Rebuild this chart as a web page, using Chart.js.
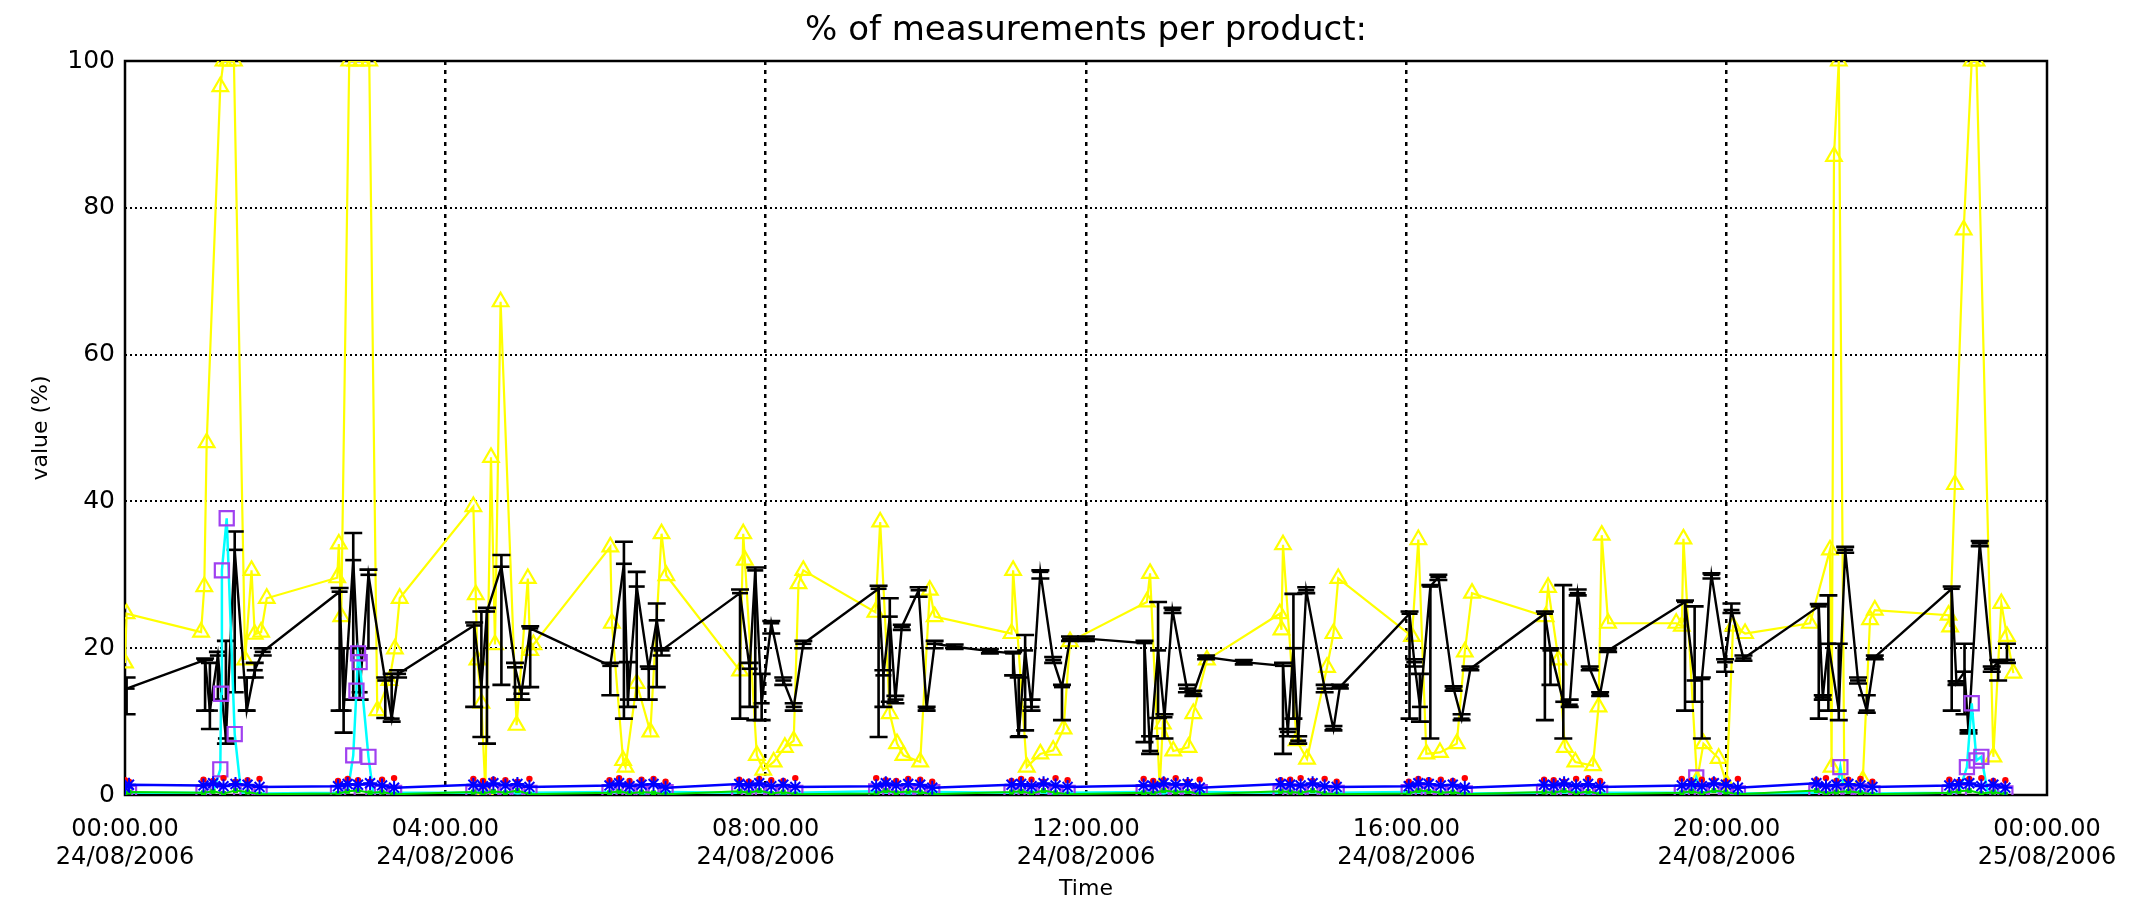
<!DOCTYPE html>
<html>
<head>
<meta charset="utf-8">
<script src="https://cdn.jsdelivr.net/npm/chart.js@4.4.0/dist/chart.umd.min.js"></script>
<style>
  html, body { margin: 0; padding: 0; background: #fff; }
</style>
</head>
<body>
<canvas id="grafico" width="2139" height="904"></canvas>
<script>
// Eje X: horas desde 24/08/2006 00:00
const horasTicks = [0, 4, 8, 12, 16, 20, 24];
const etiquetasHora = ['00:00.00', '04:00.00', '08:00.00', '12:00.00', '16:00.00', '20:00.00', '00:00.00'];
const etiquetasFecha = ['24/08/2006', '24/08/2006', '24/08/2006', '24/08/2006', '24/08/2006', '24/08/2006', '25/08/2006'];
const ticksY = [0, 20, 40, 60, 80, 100];

// Serie negra: media con barras de error (min / max)
const negroHoras = [0.02,
  1.00, 1.06, 1.16, 1.26, 1.37, 1.52, 1.62, 1.72,
  2.68, 2.73, 2.85, 2.93, 3.04, 3.25, 3.33, 3.41,
  4.36, 4.45, 4.52, 4.70, 4.87, 4.95, 5.06,
  6.06, 6.23, 6.28, 6.39, 6.54, 6.64, 6.70,
  7.68, 7.80, 7.87, 7.95, 8.07, 8.22, 8.35, 8.47,
  9.41, 9.47, 9.55, 9.62, 9.70, 9.91, 10.01, 10.11, 10.36, 10.80,
  11.09, 11.16, 11.24, 11.32, 11.43, 11.59, 11.70, 11.80, 12.00,
  12.73, 12.80, 12.90, 12.98, 13.08, 13.26, 13.34, 13.50, 13.97,
  14.46, 14.52, 14.59, 14.65, 14.75, 14.98, 15.09, 15.17,
  16.04, 16.10, 16.17, 16.30, 16.40, 16.59, 16.69, 16.80,
  17.73, 17.80, 17.96, 18.04, 18.14, 18.29, 18.42, 18.52,
  19.48, 19.60, 19.69, 19.81, 19.98, 20.06, 20.21,
  21.15, 21.20, 21.27, 21.40, 21.48, 21.64, 21.75, 21.85,
  22.81, 22.87, 22.97, 23.02, 23.16, 23.31, 23.39, 23.50];
const negroMedia = [14.5,
  18.4, 11.5, 19.0, 7.7, 33.4, 11.5, 17.0, 19.5,
  27.7, 11.5, 32.0, 14.0, 30.0, 15.6, 10.4, 16.5,
  23.1, 14.7, 25.0, 31.1, 17.4, 13.8, 22.7,
  17.6, 31.5, 13.0, 28.4, 17.2, 23.8, 19.7,
  27.5, 17.2, 30.6, 12.5, 23.4, 15.6, 12.0, 20.6,
  28.1, 16.3, 24.3, 13.0, 22.9, 27.9, 11.8, 20.6, 20.2, 19.6,
  19.3, 8.0, 19.7, 12.0, 30.4, 18.4, 14.7, 21.3, 21.3,
  20.7, 6.0, 19.7, 10.6, 25.2, 14.5, 13.8, 18.8, 18.1,
  17.6, 8.6, 20.0, 7.4, 27.9, 14.5, 9.0, 14.7,
  24.7, 18.1, 12.0, 28.4, 29.7, 14.5, 10.4, 17.2,
  24.7, 19.7, 12.7, 12.3, 27.5, 17.2, 13.8, 19.7,
  26.3, 15.6, 15.8, 30.0, 18.1, 25.2, 18.6,
  25.7, 13.3, 20.6, 11.5, 33.4, 15.6, 11.5, 18.8,
  28.1, 15.2, 16.8, 8.6, 34.3, 17.2, 18.1, 18.4];
const negroMin = [11.0,
  11.5, 9.0, 13.0, 7.0, 14.0, 11.5, 16.0, 19.0,
  11.5, 8.5, 13.0, 13.0, 20.0, 10.5, 10.0, 16.0,
  12.0, 7.9, 7.0, 15.0, 13.0, 13.0, 14.7,
  13.6, 10.4, 12.0, 13.0, 13.0, 14.7, 19.0,
  10.4, 12.0, 10.2, 10.2, 22.0, 15.0, 11.5, 20.0,
  7.9, 12.0, 12.7, 12.5, 22.5, 27.0, 11.5, 20.0, 19.9, 19.3,
  16.3, 7.9, 8.8, 11.5, 29.5, 18.0, 10.2, 21.0, 21.0,
  7.2, 5.6, 10.5, 7.7, 24.8, 14.0, 13.5, 18.5, 17.8,
  5.6, 8.0, 10.4, 7.0, 27.5, 14.0, 8.8, 14.5,
  10.4, 17.5, 10.0, 7.7, 29.3, 14.2, 10.2, 17.0,
  10.2, 15.0, 7.7, 12.0, 27.2, 17.0, 13.5, 19.5,
  11.5, 12.7, 7.7, 29.5, 16.8, 24.8, 18.3,
  10.4, 13.0, 11.5, 10.2, 33.0, 15.2, 11.2, 18.5,
  11.5, 15.0, 11.0, 8.4, 33.9, 16.8, 15.6, 18.0];
const negroMax = [16.0,
  18.6, 18.0, 19.5, 21.0, 35.9, 16.0, 18.0, 20.0,
  28.2, 20.0, 35.7, 20.0, 30.7, 16.0, 16.5, 17.0,
  23.5, 25.0, 25.5, 32.7, 18.0, 14.7, 23.0,
  18.0, 34.5, 18.1, 30.4, 17.5, 26.1, 20.0,
  28.0, 18.0, 31.0, 16.5, 23.7, 16.0, 12.5, 21.0,
  28.5, 17.0, 26.8, 13.5, 23.2, 28.3, 12.0, 21.0, 20.5, 19.9,
  19.5, 16.0, 21.8, 13.0, 30.6, 18.8, 15.0, 21.6, 21.6,
  21.0, 8.0, 26.3, 11.0, 25.5, 15.0, 14.2, 19.0, 18.4,
  18.0, 9.0, 27.4, 8.0, 28.3, 15.0, 9.4, 15.0,
  25.0, 18.5, 16.5, 28.6, 30.0, 14.8, 11.0, 17.5,
  25.0, 20.0, 28.6, 13.0, 28.0, 17.5, 14.0, 20.0,
  26.5, 25.7, 16.0, 30.2, 18.5, 26.1, 19.0,
  26.0, 13.6, 27.2, 20.6, 33.8, 16.0, 13.6, 19.0,
  28.4, 15.5, 20.6, 8.8, 34.6, 17.5, 18.4, 20.6];

// Serie amarilla (triángulos)
const amarilloHoras = [0.00, 0.02,
  0.95, 0.99, 1.02, 1.19, 1.23, 1.28, 1.36, 1.50, 1.58, 1.62, 1.70, 1.77,
  2.65, 2.67, 2.70, 2.80, 2.88, 2.95, 3.05, 3.15, 3.30, 3.37, 3.43,
  4.35, 4.38, 4.40, 4.45, 4.50, 4.57, 4.62, 4.69, 4.89, 5.03, 5.06, 5.10,
  6.06, 6.08, 6.22, 6.25, 6.39, 6.56, 6.70, 6.76,
  7.68, 7.72, 7.74, 7.89, 7.97, 8.10, 8.24, 8.35, 8.41, 8.47,
  9.37, 9.43, 9.55, 9.64, 9.72, 9.93, 10.05, 10.11,
  11.07, 11.09, 11.26, 11.43, 11.59, 11.72, 11.80,
  12.76, 12.80, 12.92, 12.96, 13.09, 13.28, 13.34, 13.51,
  14.42, 14.44, 14.46, 14.63, 14.76, 15.01, 15.09, 15.15,
  16.07, 16.15, 16.25, 16.42, 16.63, 16.73, 16.82,
  17.74, 17.77, 17.90, 17.98, 18.11, 18.33, 18.40, 18.44, 18.52,
  19.37, 19.44, 19.46, 19.63, 19.71, 19.90, 20.00, 20.08, 20.23,
  21.04, 21.29, 21.31, 21.34, 21.40, 21.47, 21.70, 21.79, 21.85,
  22.77, 22.79, 22.85, 22.96, 23.06, 23.12, 23.33, 23.43, 23.50, 23.58];
const amarilloValores = [18.0, 24.7,
  22.2, 28.4, 48.0, 96.5, 100, 100, 100, 18.4, 30.6, 21.9, 22.2, 26.8,
  29.6, 34.2, 24.3, 100, 100, 100, 100, 11.5, 15.6, 19.9, 26.8,
  39.3, 27.3, 18.4, 12.5, 0.5, 46.0, 20.5, 67.2, 9.5, 29.5, 19.7, 20.5,
  33.8, 23.4, 4.7, 3.8, 15.2, 8.6, 35.6, 29.9,
  16.9, 35.6, 32.0, 5.4, 3.4, 4.5, 6.5, 7.4, 28.8, 30.6,
  24.9, 37.2, 11.1, 7.0, 5.4, 4.5, 27.9, 24.3,
  22.0, 30.6, 3.8, 5.6, 6.1, 9.0, 20.9,
  26.3, 30.2, 1.0, 9.7, 6.0, 6.5, 11.1, 18.4,
  24.7, 22.5, 34.1, 7.4, 4.9, 17.4, 22.0, 29.5,
  21.6, 34.8, 5.6, 5.8, 7.0, 19.5, 27.5,
  24.3, 28.3, 18.4, 6.5, 4.5, 4.0, 12.0, 35.4, 23.4,
  23.4, 23.0, 34.9, 2.0, 7.0, 5.0, 1.5, 23.0, 22.0,
  23.4, 33.4, 3.8, 87.0, 100, 1.0, 2.0, 23.9, 25.2,
  24.5, 22.9, 42.3, 77.0, 100, 100, 5.2, 26.1, 21.6, 16.6];

// Serie cian con cuadrados morados
const cianHoras = [0.00, 0.05,
  0.98, 1.10, 1.19, 1.20, 1.21, 1.27, 1.37, 1.45, 1.53, 1.68,
  2.66, 2.78, 2.85, 2.89, 2.91, 2.93, 3.04, 3.10, 3.21, 3.36,
  4.35, 4.47, 4.60, 4.75, 4.90, 5.05,
  6.05, 6.17, 6.30, 6.45, 6.60, 6.75,
  7.67, 7.79, 7.92, 8.07, 8.22, 8.37,
  9.38, 9.50, 9.63, 9.78, 9.93, 10.08,
  11.07, 11.19, 11.32, 11.47, 11.62, 11.77,
  12.72, 12.84, 12.97, 13.12, 13.27, 13.42,
  14.43, 14.55, 14.68, 14.83, 14.98, 15.13,
  16.03, 16.15, 16.28, 16.43, 16.58, 16.73,
  17.72, 17.84, 17.97, 18.12, 18.27, 18.42,
  19.44, 19.56, 19.62, 19.69, 19.84, 19.99, 20.14,
  21.12, 21.24, 21.37, 21.42, 21.47, 21.52, 21.67, 21.82,
  22.78, 22.90, 23.00, 23.06, 23.12, 23.18, 23.26, 23.38, 23.48];
const cianValores = [0.3, 0.3,
  0.3, 0.4, 3.5, 13.8, 30.6, 37.7, 8.3, 0.3, 0.4, 0.2,
  0.3, 0.4, 5.4, 14.2, 19.3, 18.1, 5.2, 0.3, 0.4, 0.3,
  0.3, 0.5, 0.3, 0.4, 0.2, 0.3,
  0.4, 0.3, 0.5, 0.2, 0.3, 0.4,
  0.3, 0.5, 0.4, 0.3, 0.2, 0.3,
  0.5, 0.3, 0.4, 0.2, 0.3, 0.4,
  0.3, 0.4, 0.5, 0.3, 0.2, 0.3,
  0.4, 0.3, 0.2, 0.5, 0.3, 0.4,
  0.3, 0.5, 0.3, 0.4, 0.2, 0.3,
  0.4, 0.3, 0.5, 0.3, 0.4, 0.2,
  0.3, 0.4, 0.3, 0.5, 0.2, 0.3,
  0.3, 0.4, 2.4, 0.3, 0.5, 0.3, 0.2,
  0.3, 0.4, 0.3, 3.8, 0.4, 0.3, 0.5, 0.2,
  0.3, 0.4, 3.8, 12.5, 4.7, 5.2, 0.3, 0.5, 0.2];

// Series casi nulas: azul (asteriscos), rojo (puntos), verde
const bajasHoras = [0.00, 0.05,
  0.98, 1.10, 1.23, 1.38, 1.53, 1.68,
  2.66, 2.78, 2.91, 3.06, 3.21, 3.36,
  4.35, 4.47, 4.60, 4.75, 4.90, 5.05,
  6.05, 6.17, 6.30, 6.45, 6.60, 6.75,
  7.67, 7.79, 7.92, 8.07, 8.22, 8.37,
  9.38, 9.50, 9.63, 9.78, 9.93, 10.08,
  11.07, 11.19, 11.32, 11.47, 11.62, 11.77,
  12.72, 12.84, 12.97, 13.12, 13.27, 13.42,
  14.43, 14.55, 14.68, 14.83, 14.98, 15.13,
  16.03, 16.15, 16.28, 16.43, 16.58, 16.73,
  17.72, 17.84, 17.97, 18.12, 18.27, 18.42,
  19.44, 19.56, 19.69, 19.84, 19.99, 20.14,
  21.12, 21.24, 21.37, 21.52, 21.67, 21.82,
  22.78, 22.90, 23.03, 23.18, 23.33, 23.48];
const azulValores = [1.0, 1.4,
  1.3, 1.6, 1.2, 1.5, 1.4, 1.1,
  1.2, 1.5, 1.4, 1.6, 1.3, 1.0,
  1.4, 1.2, 1.6, 1.3, 1.5, 1.1,
  1.3, 1.6, 1.2, 1.4, 1.5, 1.0,
  1.5, 1.3, 1.6, 1.2, 1.4, 1.1,
  1.2, 1.6, 1.3, 1.5, 1.4, 1.0,
  1.4, 1.5, 1.2, 1.6, 1.3, 1.1,
  1.3, 1.2, 1.6, 1.4, 1.5, 1.0,
  1.5, 1.4, 1.3, 1.6, 1.2, 1.1,
  1.2, 1.6, 1.5, 1.3, 1.4, 1.0,
  1.4, 1.3, 1.6, 1.2, 1.5, 1.1,
  1.3, 1.5, 1.2, 1.6, 1.4, 1.0,
  1.6, 1.2, 1.4, 1.5, 1.3, 1.1,
  1.3, 1.5, 1.6, 1.2, 1.4, 1.0];
const rojoValores = [2.0, 1.8,
  2.1, 1.9, 2.3, 1.8, 2.0, 2.2,
  1.9, 2.2, 2.0, 1.8, 2.1, 2.3,
  2.2, 1.9, 2.1, 2.0, 1.8, 2.2,
  2.0, 2.3, 1.9, 2.1, 2.2, 1.8,
  2.1, 1.8, 2.2, 2.0, 1.9, 2.3,
  2.3, 2.0, 1.9, 2.2, 2.1, 1.8,
  1.9, 2.2, 2.1, 1.8, 2.3, 2.0,
  2.2, 1.9, 2.0, 2.3, 1.8, 2.1,
  2.0, 2.1, 2.3, 1.9, 2.2, 1.8,
  1.8, 2.2, 2.0, 2.1, 1.9, 2.3,
  2.1, 2.0, 1.8, 2.2, 2.3, 1.9,
  2.2, 1.9, 2.1, 2.0, 1.8, 2.2,
  2.0, 2.3, 1.9, 2.1, 2.2, 1.8,
  2.1, 1.8, 2.2, 2.3, 1.9, 2.0];
const verdeValores = [0.2, 0.4,
  0.3, 0.5, 0.2, 0.6, 0.4, 0.1,
  0.2, 0.5, 0.6, 0.3, 0.4, 0.1,
  0.4, 0.2, 0.5, 0.3, 0.6, 0.1,
  0.3, 0.5, 0.2, 0.4, 0.3, 0.1,
  0.5, 0.3, 0.6, 0.2, 0.4, 0.1,
  0.2, 0.6, 0.3, 0.5, 0.4, 0.1,
  0.4, 0.5, 0.2, 0.6, 0.3, 0.1,
  0.3, 0.2, 0.6, 0.4, 0.5, 0.1,
  0.5, 0.4, 0.3, 0.6, 0.2, 0.1,
  0.2, 0.6, 0.5, 0.3, 0.4, 0.1,
  0.4, 0.3, 0.6, 0.2, 0.5, 0.1,
  0.3, 0.5, 0.2, 0.6, 0.4, 0.1,
  0.6, 0.2, 0.4, 0.5, 0.3, 0.1,
  0.3, 0.5, 0.6, 0.2, 0.4, 0.1];

const puntos = (xs, ys) => xs.map((h, i) => ({ x: h, y: ys[i] }));
const transparente = 'rgba(0,0,0,0)';

// Marco del área de dibujo (bajo los datos)
const marco = {
  id: 'marco',
  beforeDatasetsDraw(chart) {
    const { ctx, chartArea: a } = chart;
    ctx.save();
    ctx.strokeStyle = '#000';
    ctx.lineWidth = 2.5;
    ctx.strokeRect(a.left, a.top, a.right - a.left, a.bottom - a.top);
    ctx.restore();
  }
};

// Barras de error de la serie negra
const IDX_NEGRO = 4;
const barrasError = {
  id: 'barrasError',
  afterDatasetDraw(chart, args) {
    if (args.index !== IDX_NEGRO) return;
    const { ctx, chartArea: a, scales: { x, y } } = chart;
    ctx.save();
    ctx.beginPath();
    ctx.rect(a.left, a.top, a.right - a.left, a.bottom - a.top);
    ctx.clip();
    ctx.strokeStyle = '#000';
    ctx.lineWidth = 2.6;
    negroHoras.forEach((h, i) => {
      const px = x.getPixelForValue(h);
      const lo = y.getPixelForValue(negroMin[i]);
      const hi = y.getPixelForValue(negroMax[i]);
      ctx.beginPath();
      ctx.moveTo(px, lo); ctx.lineTo(px, hi);
      ctx.moveTo(px - 9, lo); ctx.lineTo(px + 9, lo);
      ctx.moveTo(px - 9, hi); ctx.lineTo(px + 9, hi);
      ctx.stroke();
    });
    ctx.restore();
  }
};

Chart.defaults.font.family = "'DejaVu Sans', sans-serif";
Chart.defaults.color = '#000';

var ctx = document.getElementById('grafico').getContext('2d');

var grafico = new Chart(ctx, {
  type: 'line',
  data: {
    datasets: [
      { // azul
        data: puntos(bajasHoras, azulValores),
        borderColor: '#0000ff', borderWidth: 2.5,
        pointStyle: 'star', pointRadius: 7, pointBorderColor: '#0000ff',
        pointBackgroundColor: '#0000ff', pointBorderWidth: 2
      },
      { // rojo
        data: puntos(bajasHoras, rojoValores),
        showLine: false,
        pointStyle: 'circle', pointRadius: 3.2, pointBorderWidth: 0,
        pointBackgroundColor: '#ff0000'
      },
      { // verde
        data: puntos(bajasHoras, verdeValores),
        borderColor: '#00dd00', borderWidth: 2,
        pointStyle: 'rect', pointRadius: 3.5, pointBorderWidth: 0,
        pointBackgroundColor: '#00dd00'
      },
      { // cian con cuadrados morados
        data: puntos(cianHoras, cianValores),
        borderColor: '#00ffff', borderWidth: 2.5,
        pointStyle: 'rect', pointRadius: 10, pointBorderColor: '#a040f0',
        pointBackgroundColor: transparente, pointBorderWidth: 2.2
      },
      { // negro
        data: puntos(negroHoras, negroMedia),
        borderColor: '#000', borderWidth: 2.4,
        pointStyle: 'line', pointRadius: 8, pointBorderColor: '#000',
        pointBorderWidth: 2.6
      },
      { // amarillo
        data: puntos(amarilloHoras, amarilloValores),
        borderColor: '#ffff00', borderWidth: 2.2,
        pointStyle: 'triangle', pointRadius: 9, pointBorderColor: '#ffff00',
        pointBackgroundColor: transparente, pointBorderWidth: 2.2
      }
    ]
  },
  options: {
    responsive: false,
    animation: false,
    devicePixelRatio: 1,
    layout: { padding: { left: 33, right: 0, top: 0, bottom: 0 } },
    plugins: {
      legend: { display: false },
      tooltip: { enabled: false },
      title: {
        display: true,
        text: '% of measurements per product:',
        color: '#000',
        font: { size: 34, weight: 'normal' },
        padding: { top: 10.6, bottom: 9.6 }
      }
    },
    scales: {
      x: {
        type: 'linear', min: 0, max: 24,
        afterBuildTicks: s => { s.ticks = horasTicks.map(v => ({ value: v })); },
        afterFit: s => { s.height = 109; },
        grid: {
          color: c => (c.tick && (c.tick.value === 0 || c.tick.value === 24)) ? transparente : '#000',
          lineWidth: 2.5, drawTicks: false
        },
        border: { display: false, dash: [4, 5] },
        ticks: {
          color: '#000', font: { size: 24, lineHeight: 1.15 }, padding: 21,
          maxRotation: 0, autoSkip: false,
          callback: (v, i) => [etiquetasHora[i], etiquetasFecha[i]]
        },
        title: {
          display: true, text: 'Time', color: '#000',
          font: { size: 22 }, padding: { top: 0, bottom: 2 }
        }
      },
      y: {
        min: 0, max: 100,
        afterBuildTicks: s => { s.ticks = ticksY.map(v => ({ value: v })); },
        afterFit: s => { s.width = 92; },
        grid: {
          color: c => (c.tick && (c.tick.value === 0 || c.tick.value === 100)) ? transparente : '#000',
          lineWidth: 2, drawTicks: false
        },
        border: { display: false, dash: [2, 3] },
        ticks: { color: '#000', font: { size: 25 }, padding: 10 },
        title: {
          display: true, text: 'value (%)', color: '#000',
          font: { size: 22, lineHeight: 0.73 }, padding: { top: 0, bottom: 0 }
        }
      },
      // eje derecho vacío: reserva el margen derecho del área de dibujo
      yDer: {
        type: 'linear', position: 'right', min: 0, max: 100,
        afterFit: s => { s.width = 92; },
        grid: { display: false, drawTicks: false },
        border: { display: false },
        ticks: { display: false }
      }
    }
  },
  plugins: [marco, barrasError]
});
</script>
</body>
</html>
